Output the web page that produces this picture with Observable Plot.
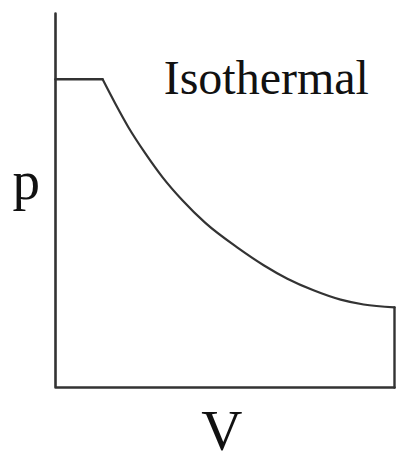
<!DOCTYPE html>
<html>
<head>
<meta charset="utf-8">
<script src="https://cdn.jsdelivr.net/npm/d3@7"></script>
<script src="https://cdn.jsdelivr.net/npm/@observablehq/plot@0.6"></script>
<style>
  html, body { margin: 0; padding: 0; background: #fff; }
</style>
</head>
<body>
<div id="chart"></div>
<script>
// Axis frame (V, p)
const axisV = [0, 0, 10];
const axisP = [10, 0, 0];

// Constant-pressure segment
const flatV = [0, 1.39];
const flatP = [8.24, 8.24];

// Isothermal expansion curve
const curveV = [1.39, 1.77, 2.15, 2.65, 3.16, 3.75, 4.42, 5.40, 6.14, 6.84, 7.61, 8.41, 9.09, 10];
const curveP = [8.24, 7.58, 6.96, 6.26, 5.62, 5.00, 4.40, 3.72, 3.27, 2.91, 2.60, 2.35, 2.22, 2.14];

// Final drop at constant volume
const dropV = [10, 10];
const dropP = [2.14, 0];

// Labels
const labelText = ["Isothermal", "p", "V"];
const labelV = [3.19, -1.27, 4.3];
const labelP = [7.86, 5.05, -1.66];
const labelSize = [48, 55, 57];

const zip = (xs, ys) => xs.map((x, i) => ({V: x, p: ys[i]}));
const labels = labelText.map((t, i) => ({text: t, V: labelV[i], p: labelP[i], size: labelSize[i]}));

const stroke = "#333";
const plot = Plot.plot({
  width: 398,
  height: 462,
  marginLeft: 55,
  marginRight: 4,
  marginTop: 13,
  marginBottom: 75,
  x: {domain: [0, 10], axis: null},
  y: {domain: [0, 10], axis: null},
  style: {background: "#fff", fontFamily: "'Liberation Serif', serif"},
  marks: [
    Plot.line(zip(axisV, axisP), {x: "V", y: "p", stroke, strokeWidth: 2.6}),
    Plot.line(zip(flatV, flatP), {x: "V", y: "p", stroke, strokeWidth: 2.4}),
    Plot.line(zip(curveV, curveP), {x: "V", y: "p", stroke, strokeWidth: 2.2, curve: "monotone-x"}),
    Plot.line(zip(dropV, dropP), {x: "V", y: "p", stroke, strokeWidth: 2.4}),
    ...labels.map(l => Plot.text([l], {
      x: "V", y: "p", text: "text", textAnchor: "start", lineAnchor: "bottom",
      fontSize: l.size, fill: "#111", fontFamily: "'Liberation Serif', serif"
    }))
  ]
});
document.getElementById("chart").appendChild(plot);
</script>
</body>
</html>
